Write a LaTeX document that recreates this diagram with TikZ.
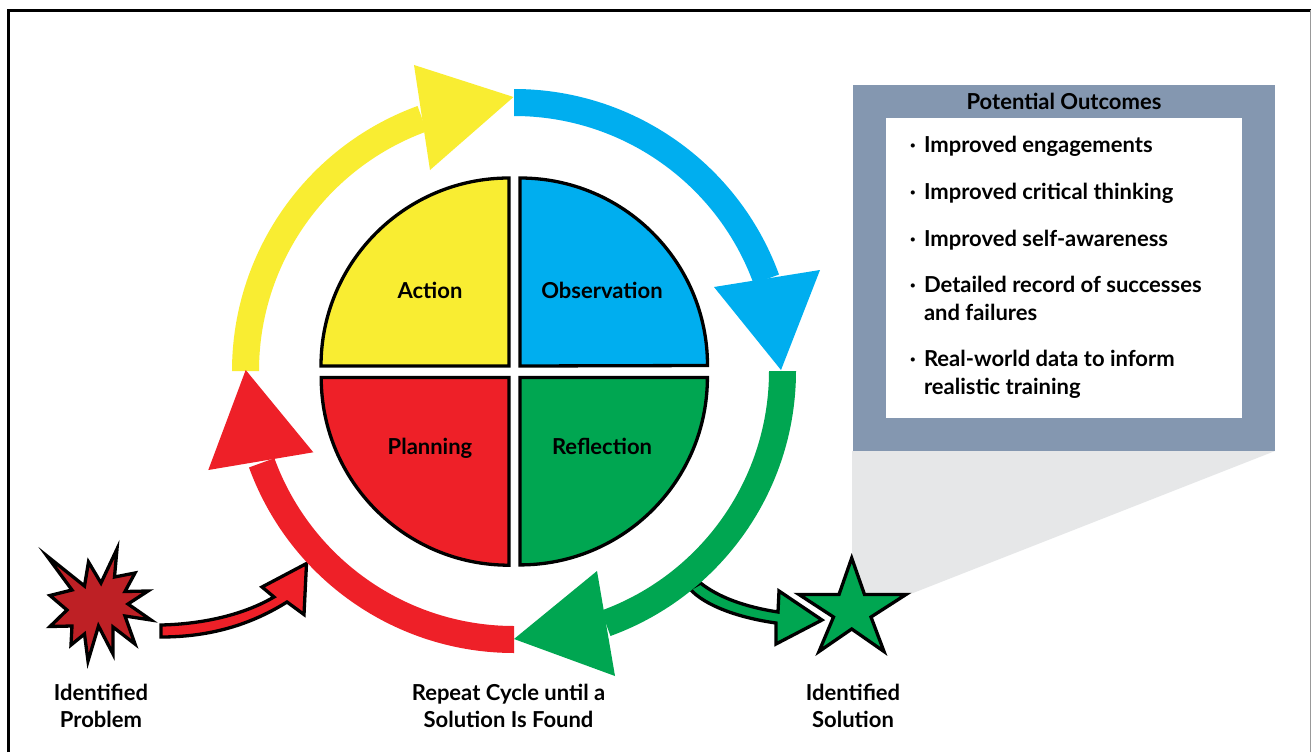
\documentclass[tikz,border=0pt]{standalone}
\usepackage{fontspec}
\setmainfont{Lato}[BoldFont={Lato Bold}]
\definecolor{cyellow}{HTML}{F9ED32}
\definecolor{cblue}{HTML}{00AEEF}
\definecolor{cgreen}{HTML}{00A651}
\definecolor{cred}{HTML}{EE2028}
\definecolor{cburst}{HTML}{BE2025}
\definecolor{cframe}{HTML}{8497B0}
\definecolor{cshade}{HTML}{E6E7E8}
\tikzset{
  quad/.style={draw=black,line width=3.3pt,miter limit=10,line join=miter},
  outl/.style={draw=black,line width=3.3pt,miter limit=20,line join=miter},
  lab/.style={inner sep=0pt,outer sep=0pt,font=\fontsize{22}{26}\selectfont\bfseries,anchor=base,text=black},
  labw/.style={lab,anchor=base west},
}
\begin{document}
\begin{tikzpicture}[x=1pt,y=1pt,yscale=-1]
\useasboundingbox (0,0) rectangle (1311,752);
\fill[white] (0,0) rectangle (1311,752);
% page frame
\draw[black,line width=3pt] (8,752) -- (8,10.5) -- (1311,10.5);
\draw[black!40,line width=1pt] (1310.5,10.5) -- (1310.5,752);
% callout
\fill[cshade] (852,451) -- (1275,451) -- (913,593) -- (852,593) -- cycle;
\fill[cframe] (853,85) rectangle (1275,451);
\fill[white] (886,118) rectangle (1242,418);
\node[lab] (title) at (1064,109.3) {Potential Outcomes};
\node[lab] (b1) at (913,152.3) {·};
\node[labw] (t1) at (924,152.3) {Improved engagements};
\node[lab] (b2) at (913,199) {·};
\node[labw] (t2) at (924,199) {Improved critical thinking};
\node[lab] (b3) at (913,246) {·};
\node[labw] (t3) at (924,246) {Improved self-awareness};
\node[lab] (b4) at (913,292.7) {·};
\node[labw] (t4) at (924,292.7) {Detailed record of successes};
\node[labw] (t4b) at (924,320) {and failures};
\node[lab] (b5) at (913,366.7) {·};
\node[labw] (t5) at (924,366.7) {Real-world data to inform};
\node[labw] (t5b) at (924,394.3) {realistic training};
% small arrows (under the ring)
\draw[outl,fill=cgreen] (700.5,583) .. controls (718,597) and (745,607) .. (778,612)
  -- (779,591) -- (822,620) -- (776,644) -- (776,623)
  .. controls (740,618) and (705,606) .. (690,589) -- cycle;
\draw[outl,fill=cred] (161,625) .. controls (205,624) and (245,614) .. (274,597)
  -- (262,587) -- (306.5,563.5) -- (304,614.5) -- (287,602)
  .. controls (255,622) and (215,637) .. (161,637) -- cycle;
% ring
\fill[cyellow] (232,371) arc[start angle=180,end angle=250,radius=282pt]
  -- ([shift={(514,371)}]250:255pt) arc[start angle=250,end angle=180,radius=255pt] -- cycle;
\fill[cyellow] (414,65) -- (513.5,97) -- (430,170) -- cycle;
\fill[cblue] (514,89) arc[start angle=270,end angle=340,radius=282pt]
  -- ([shift={(514,371)}]340:255pt) arc[start angle=340,end angle=270,radius=255pt] -- cycle;
\fill[cblue] (820,270) -- (781,370) -- (714,287) -- cycle;
\fill[cgreen] (796,371) arc[start angle=0,end angle=70,radius=282pt]
  -- ([shift={(514,371)}]70:255pt) arc[start angle=70,end angle=0,radius=255pt] -- cycle;
\fill[cgreen] (615,676) -- (514,639) -- (597,571) -- cycle;
\fill[cred] (514,653) arc[start angle=90,end angle=160,radius=282pt]
  -- ([shift={(514,371)}]160:255pt) arc[start angle=160,end angle=90,radius=255pt] -- cycle;
\fill[cred] (208.3,470) -- (245.7,370) -- (313.3,452.3) -- cycle;
% quadrants
\draw[quad,fill=cyellow] (509,366) -- (321,366) arc[start angle=180,end angle=270,radius=188pt] -- cycle;
\draw[quad,fill=cblue] (520,366) -- (520,178) arc[start angle=270,end angle=360,radius=187.5pt] -- cycle;
\draw[quad,fill=cred] (509,377.4) -- (509,565.2) arc[start angle=90,end angle=180,radius=187.8pt] -- cycle;
\draw[quad,fill=cgreen] (520,377.4) -- (707.4,377.4) arc[start angle=0,end angle=90,radius=187.5pt] -- cycle;
\node[lab] (action) at (430,298.3) {Action};
\node[lab] (obs) at (602,298.3) {Observation};
\node[lab] (plan) at (430,454) {Planning};
\node[lab] (refl) at (602,454) {Reflection};
% burst
\draw[outl,fill=cburst] (47,556) -- (84.5,586) -- (88.5,562) -- (101,583) -- (117,549) -- (114.5,577) -- (135,573) -- (125,591.5) -- (148,591) -- (128,604) -- (151,620) -- (125,616) -- (135,644) -- (113,627) -- (113,654) -- (98.5,626) -- (88,661) -- (84.5,634) -- (71,645) -- (72,626) -- (50,626.5) -- (67,610) -- (50,595.5) -- (72,590) -- cycle;
% star
\draw[outl,fill=cgreen] (851.7,558) -- (864.5,594.5) -- (906,594.5) -- (871,617) -- (884,651.5) -- (851.7,629) -- (819,651.5) -- (833.5,617) -- (799,594.5) -- (839,594.5) -- cycle;
% labels
\node[lab] (p1) at (101,700) {Identified};
\node[lab] (p2) at (101,727.7) {Problem};
\node[lab] (r1) at (508.5,700) {Repeat Cycle until a};
\node[lab] (r2) at (508.5,727.5) {Solution Is Found};
\node[lab] (s1) at (853,700) {Identified};
\node[lab] (s2) at (853,727.7) {Solution};
\end{tikzpicture}
\end{document}
